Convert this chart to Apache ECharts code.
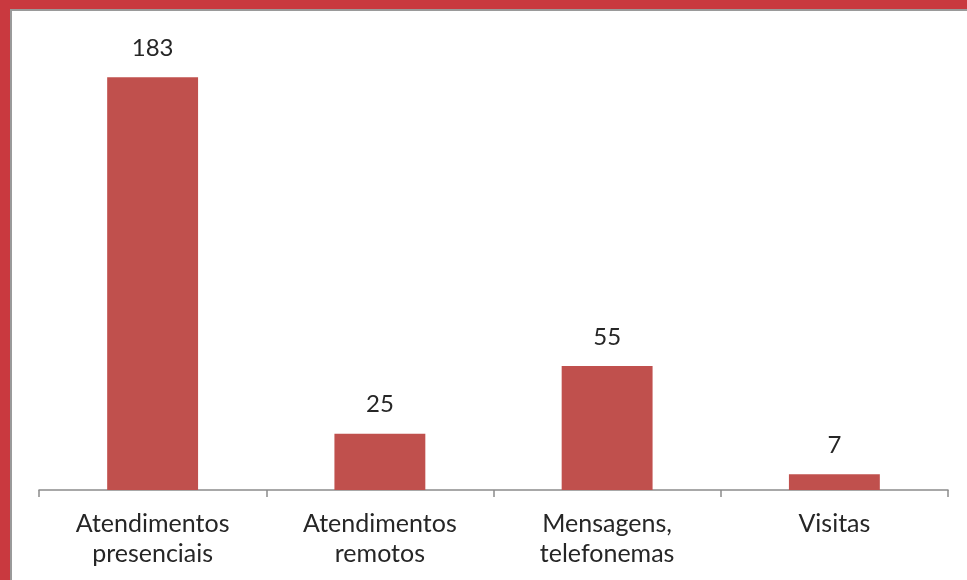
<!DOCTYPE html>
<html>
<head>
<meta charset="utf-8">
<script src="https://cdn.jsdelivr.net/npm/echarts@6/dist/echarts.min.js"></script>
<style>
  html, body { margin:0; padding:0; background:#fff; }
  #frame { position:absolute; left:0; top:0; width:967px; height:580px; box-sizing:border-box;
           border-top:9px solid #C9393F; border-left:10px solid #C9393F; }
  #frame:after { content:""; position:absolute; left:0; top:0; right:0; bottom:0;
           border-top:2px solid #9a9a9a; border-left:2px solid #9a9a9a; }
  #chart { position:absolute; left:0; top:0; width:967px; height:580px; }
</style>
</head>
<body>
<div id="frame"></div>
<div id="chart"></div>
<script>
// categorias e valores
var categorias = ['Atendimentos\npresenciais', 'Atendimentos\nremotos', 'Mensagens,\ntelefonemas', 'Visitas'];
var valores = [183, 25, 55, 7];

var chart = echarts.init(document.getElementById('chart'));
chart.setOption({
  animation: false,
  grid: { left: 39, right: 19, top: 39, bottom: 90 },
  xAxis: {
    type: 'category',
    data: categorias,
    axisLine: { lineStyle: { color: '#8c8c8c', width: 1.5 } },
    axisTick: { show: true, length: 7, lineStyle: { color: '#8c8c8c', width: 1.5 } },
    axisLabel: { color: '#262626', fontFamily: 'Lato', fontSize: 25, lineHeight: 30, margin: 19 }
  },
  yAxis: {
    type: 'value', min: 0, max: 200,
    show: false
  },
  series: [{
    type: 'bar',
    data: valores,
    barWidth: '40%',
    itemStyle: { color: '#C0504D' },
    label: { show: true, position: 'top', distance: 17, color: '#262626', fontFamily: 'Lato', fontSize: 24 }
  }]
});
</script>
</body>
</html>
